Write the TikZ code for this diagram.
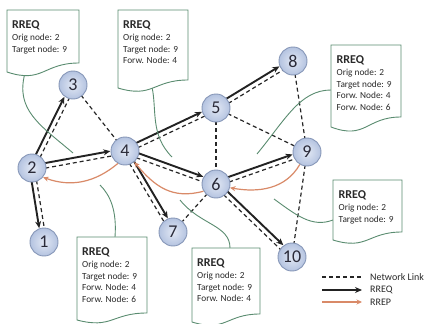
\documentclass[tikz,border=0pt]{standalone}
\usepackage{fontspec}
\setmainfont{Carlito}
\usetikzlibrary{calc,arrows.meta}
\pgfdeclarelayer{bg}
\pgfsetlayers{bg,main}
\definecolor{nodein}{HTML}{E2E8F4}
\definecolor{nodeout}{HTML}{B4C3E0}
\definecolor{nodeline}{HTML}{8797B8}
\definecolor{nodetext}{HTML}{2A2A38}
\definecolor{boxgreen}{HTML}{5A8C70}
\definecolor{rrepc}{HTML}{D98A68}
\definecolor{rreqc}{HTML}{222222}
\definecolor{txt}{HTML}{2A2A2A}
\newcommand{\reqlink}[4]{%
  \begin{pgfonlayer}{bg}
  \draw[netlink, shorten <=13pt, shorten >=13pt] ($(#1)!2.5pt!#4:(#2)$) -- ($(#2)!2.5pt!#3:(#1)$);
  \draw[rreq] ($(#1)!2.5pt!#3:(#2)$) -- ($(#2)!2.5pt!#4:(#1)$);
  \end{pgfonlayer}}
\newcommand{\plainlink}[2]{%
  \begin{pgfonlayer}{bg}
  \draw[netlink, shorten <=13pt, shorten >=13pt] (#1.center) -- (#2.center);
  \end{pgfonlayer}}
\newcommand{\docbox}[5]{%
  \draw[docline] (#1,#2) -- (#1+#3,#2) -- (#1+#3,#2+#4) .. controls (#1+#3/2,#2+#4) and (#1+#3/2,#2+#4+2.32*#5) .. (#1,#2+#4+#5) -- cycle;}
\newcommand{\rreqhead}{\textbf{\fontsize{12}{12}\selectfont RREQ}}
\begin{document}
\begin{tikzpicture}[x=1pt,y=-1pt,
  nd/.style={circle, minimum size=28pt, inner sep=0pt, draw=nodeline, line width=0.9pt,
    inner color=nodein, outer color=nodeout, text=nodetext, font=\fontsize{18}{18}\selectfont},
  netlink/.style={draw=black!85, line width=1.2pt, dash pattern=on 4pt off 3pt},
  rreq/.style={draw=rreqc, line width=1.9pt, shorten <=13pt, shorten >=14.4pt,
    -{Stealth[length=7pt,width=6pt]}},
  rrep/.style={draw=rrepc, line width=1.2pt, -{Stealth[length=5.5pt,width=5pt]}},
  docline/.style={draw=boxgreen, line width=0.9pt, fill=white},
  tail/.style={draw=boxgreen, line width=0.9pt},
  boxtext/.style={anchor=base west, inner sep=0pt, text=txt, font=\fontsize{9.3}{11.8}\selectfont},
  legtext/.style={anchor=west, inner sep=0pt, text=txt, font=\fontsize{10}{12}\selectfont}]
\useasboundingbox (0,0) rectangle (429,324);
\begin{pgfonlayer}{bg}
\fill[white] (0,0) rectangle (429,324);
\end{pgfonlayer}

% nodes
\node[nd] (n1) at (44,242) {1};
\node[nd] (n2) at (32,168) {2};
\node[nd] (n3) at (73,85) {3};
\node[nd] (n4) at (125,151) {4};
\node[nd] (n5) at (216,108) {5};
\node[nd] (n6) at (216,184) {6};
\node[nd] (n7) at (173,232) {7};
\node[nd] (n8) at (293,61) {8};
\node[nd] (n9) at (307,152) {9};
\node[nd] (n10) at (292,257) {10};

% links with RREQ
\reqlink{n2}{n3}{90}{-90}
\reqlink{n2}{n4}{90}{-90}
\reqlink{n2}{n1}{-90}{90}
\reqlink{n4}{n5}{90}{-90}
\reqlink{n4}{n6}{90}{-90}
\reqlink{n4}{n7}{90}{-90}
\reqlink{n5}{n8}{90}{-90}
\reqlink{n6}{n9}{90}{-90}
\reqlink{n6}{n10}{90}{-90}
% plain network links
\plainlink{n3}{n4}
\plainlink{n5}{n9}
\plainlink{n5}{n6}
\plainlink{n8}{n9}
\plainlink{n6}{n7}
\plainlink{n9}{n10}

% RREP
\draw[rrep] (n4.240) to[out=220,in=-20] (n2.-40);
\draw[rrep] (n6.210) to[out=195,in=-50,looseness=1.1] (n4.-50);
\draw[rrep] (n9.240) to[out=240,in=-10] (n6.-15);

% callout tails
\coordinate (e1) at (73,153);
\coordinate (e2) at (172,157);
\coordinate (e3) at (257,154);
\coordinate (e4) at (274,199);
\coordinate (e5) at (100,185);
\coordinate (e6) at (180,200);
\draw[tail] (25,73) .. controls (15,110) and (40,125) .. (e1);
\draw[tail] (152,87) .. controls (157,110) and (150,135) .. (e2);
\draw[tail] (331,90) .. controls (300,90) and (285,120) .. (e3);
\draw[tail] (333,220) .. controls (312,228) and (296,215) .. (e4);
\draw[tail] (115,237) .. controls (117,210) and (110,195) .. (e5);
\draw[tail] (230,248) .. controls (230,225) and (200,225) .. (e6);

% callout boxes
\docbox{7}{10}{72}{53}{9}
\node[boxtext] (t1) at (12,28.5) {\begin{tabular}[t]{@{}l@{}}\rreqhead\\ Orig node: 2\\ Target node: 9\end{tabular}};
\docbox{118}{10}{70}{70}{8}
\node[boxtext] (t2) at (123,28.5) {\begin{tabular}[t]{@{}l@{}}\rreqhead\\ Orig node: 2\\ Target node: 9\\ Forw. Node: 4\end{tabular}};
\docbox{331}{45}{70}{72}{10}
\node[boxtext] (t3) at (336.5,63.5) {\begin{tabular}[t]{@{}l@{}}\rreqhead\\ Orig node: 2\\ Target node: 9\\ Forw. Node: 4\\ Forw. Node: 6\end{tabular}};
\docbox{333}{180}{69}{52}{8}
\node[boxtext] (t4) at (338.5,198.5) {\begin{tabular}[t]{@{}l@{}}\rreqhead\\ Orig node: 2\\ Target node: 9\end{tabular}};
\docbox{77}{237}{70}{76}{7}
\node[boxtext] (t5) at (82,255.5) {\begin{tabular}[t]{@{}l@{}}\rreqhead\\ Orig node: 2\\ Target node: 9\\ Forw. Node: 4\\ Forw. Node: 6\end{tabular}};
\docbox{192}{248}{68}{66}{8}
\node[boxtext] (t6) at (197,266.5) {\begin{tabular}[t]{@{}l@{}}\rreqhead\\ Orig node: 2\\ Target node: 9\\ Forw. Node: 4\end{tabular}};

% legend
\coordinate (la) at (322,277); \coordinate (lb) at (362,277);
\coordinate (lc) at (322,290); \coordinate (ld) at (362,290);
\coordinate (le) at (322,302); \coordinate (lf) at (362,302);
\draw[netlink] (la) -- (lb);
\draw[draw=rreqc, line width=1.9pt, -{Stealth[length=7pt,width=6pt]}] (lc) -- (ld);
\draw[rrep] (le) -- (lf);
\node[legtext] (l1) at (370,277) {Network Link};
\node[legtext] (l2) at (370,290) {RREQ};
\node[legtext] (l3) at (370,302) {RREP};
\end{tikzpicture}
\end{document}
